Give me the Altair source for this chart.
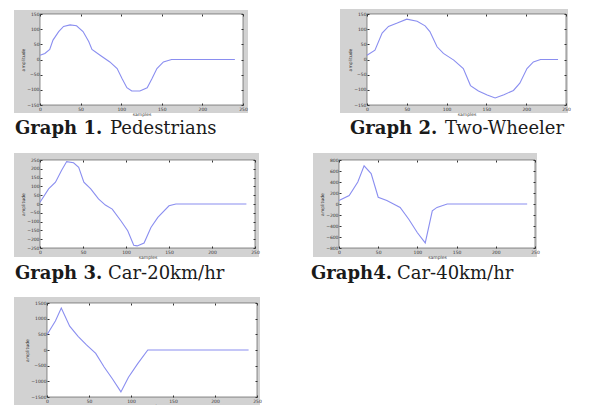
import altair as alt
import pandas as pd

# ---- data (samples vs amplitude) ----
g1_x = [0, 6, 12, 16, 23, 29, 37, 45, 53, 60, 64, 74, 86, 95, 101, 107, 113, 123, 132, 138, 144, 152, 162, 240]
g1_y = [14, 20, 33, 64, 92, 109, 114, 111, 92, 59, 33, 14, -8, -30, -63, -93, -104, -104, -93, -63, -30, -8, 0, 0]

g2_x = [0, 10, 19, 27, 38, 50, 63, 73, 79, 88, 96, 109, 121, 130, 140, 151, 161, 172, 184, 192, 201, 209, 218, 240]
g2_y = [14, 31, 87, 109, 120, 133, 126, 111, 92, 42, 20, -2, -30, -86, -104, -117, -127, -116, -102, -78, -30, -8, 0, 0]

g3_x = [0, 10, 18, 25, 31, 39, 45, 51, 59, 68, 76, 84, 94, 102, 109, 113, 121, 129, 137, 150, 158, 240]
g3_y = [10, 86, 124, 190, 241, 234, 209, 124, 86, 29, -6, -29, -95, -152, -234, -238, -222, -133, -76, -10, 0, 0]

g4_x = [0, 13, 24, 32, 41, 50, 61, 78, 89, 100, 110, 119, 125, 138, 240]
g4_y = [62, 154, 400, 695, 554, 123, 62, -62, -277, -523, -708, -123, -62, 0, 0]

g5_x = [0, 10, 17, 27, 37, 47, 58, 68, 78, 88, 97, 108, 120, 240]
g5_y = [489, 924, 1337, 761, 435, 163, -109, -543, -924, -1337, -870, -435, 0, 0]

x_ticks = [0, 50, 100, 150, 200, 250]
y_ticks_1 = [-150, -100, -50, 0, 50, 100, 150]
y_ticks_2 = [-150, -100, -50, 0, 50, 100, 150]
y_ticks_3 = [-250, -200, -150, -100, -50, 0, 50, 100, 150, 200, 250]
y_ticks_4 = [-800, -600, -400, -200, 0, 200, 400, 600, 800]
y_ticks_5 = [-1500, -1000, -500, 0, 500, 1000, 1500]

captions_bold = ["Graph 1.", "Graph 2.", "Graph 3.", "Graph4.", None]
captions_text = ["Pedestrians", "Two-Wheeler", "Car-20km/hr", "Car-40km/hr", None]

W, H = 586, 400

# layout boxes (chart pixels): plot (l, t, r, b), gray (l, t, r, b), caption (xb, xr, y)
panels = [
    dict(x=g1_x, y=g1_y, yt=y_ticks_1, plot=(32, 6, 235, 97), gray=(6, 2, 240, 105), cap=(7, 102, 126)),
    dict(x=g2_x, y=g2_y, yt=y_ticks_2, plot=(359, 6, 558, 97), gray=(332, 1, 560, 105), cap=(342, 437, 126)),
    dict(x=g3_x, y=g3_y, yt=y_ticks_3, plot=(32, 152, 247, 240), gray=(6, 145, 251, 249), cap=(7, 100, 271)),
    dict(x=g4_x, y=g4_y, yt=y_ticks_4, plot=(331, 152, 527, 240), gray=(305, 145, 529, 249), cap=(303, 389, 271)),
    dict(x=g5_x, y=g5_y, yt=y_ticks_5, plot=(39, 295, 249, 389), gray=(6, 289, 252, 400), cap=None),
]

one = pd.DataFrame({"a": [0]})
layers = []
for i, p in enumerate(panels):
    gl, gt, gr, gb = p["gray"]
    pl, pt, pr, pb = p["plot"]
    layers.append(alt.Chart(one).mark_rect(color="#d2d2d2").encode(
        x=alt.value(gl), x2=alt.value(gr), y=alt.value(gt), y2=alt.value(gb)))
    layers.append(alt.Chart(one).mark_rect(fill="white", stroke="#444444", strokeWidth=0.6).encode(
        x=alt.value(pl), x2=alt.value(pr), y=alt.value(pt), y2=alt.value(pb)))
    df = pd.DataFrame({"samples": p["x"], "amplitude": p["y"]})
    yt = p["yt"]
    xsc = alt.Scale(domain=[0, 250], range=[pl, pr], nice=False, zero=False)
    ysc = alt.Scale(domain=[yt[0], yt[-1]], range=[pb, pt], nice=False, zero=False)
    axis_common = dict(tickSize=2, domain=False, grid=False, labelFontSize=4.5, titleFontSize=4.5,
                       labelColor="#333333", titleColor="#333333", tickColor="#333333",
                       labelFont="DejaVu Sans", titleFont="DejaVu Sans", titleFontWeight="normal",
                       labelPadding=1, titlePadding=1, labelFlush=False, labelOverlap=False,
                       format="d", zindex=2)
    # opposite-side inward ticks (box style)
    box_common = dict(tickSize=2, domain=False, grid=False, labels=False, title="",
                      tickColor="#333333", zindex=2)
    layers.append(alt.Chart(df).mark_line(opacity=0).encode(
        x=alt.X("samples:Q", scale=xsc,
                axis=alt.Axis(orient="top", offset=-(pt + 2), values=x_ticks, **box_common)),
        y=alt.Y("amplitude:Q", scale=ysc,
                axis=alt.Axis(orient="right", offset=(pr - 2) - W, values=yt, **box_common)),
    ))
    line = alt.Chart(df).mark_line(color="#8a8ef0", strokeWidth=1.1).encode(
        x=alt.X("samples:Q", scale=xsc,
                axis=alt.Axis(orient="bottom", offset=(pb - 2) - H, values=x_ticks, **axis_common)),
        y=alt.Y("amplitude:Q", scale=ysc,
                axis=alt.Axis(orient="left", offset=-(pl + 2), values=yt, **axis_common)),
        order="samples:Q",
    )
    layers.append(line)
    if p["cap"] is not None:
        xb, xr, cy = p["cap"]
        layers.append(alt.Chart(one).mark_text(align="left", baseline="alphabetic", font="DejaVu Serif",
                                               fontSize=18, fontWeight="bold", color="#1a1a1a").encode(
            x=alt.value(xb), y=alt.value(cy), text=alt.value(captions_bold[i])))
        layers.append(alt.Chart(one).mark_text(align="left", baseline="alphabetic", font="DejaVu Serif",
                                               fontSize=18, color="#1a1a1a").encode(
            x=alt.value(xr), y=alt.value(cy), text=alt.value(captions_text[i])))

chart = alt.layer(*layers).resolve_scale(x="independent", y="independent").properties(
    width=W, height=H, autosize="none", padding=0, background="white"
).configure_view(strokeWidth=0)

chart.save("out.html", embed_options={"renderer": "svg", "actions": False})
